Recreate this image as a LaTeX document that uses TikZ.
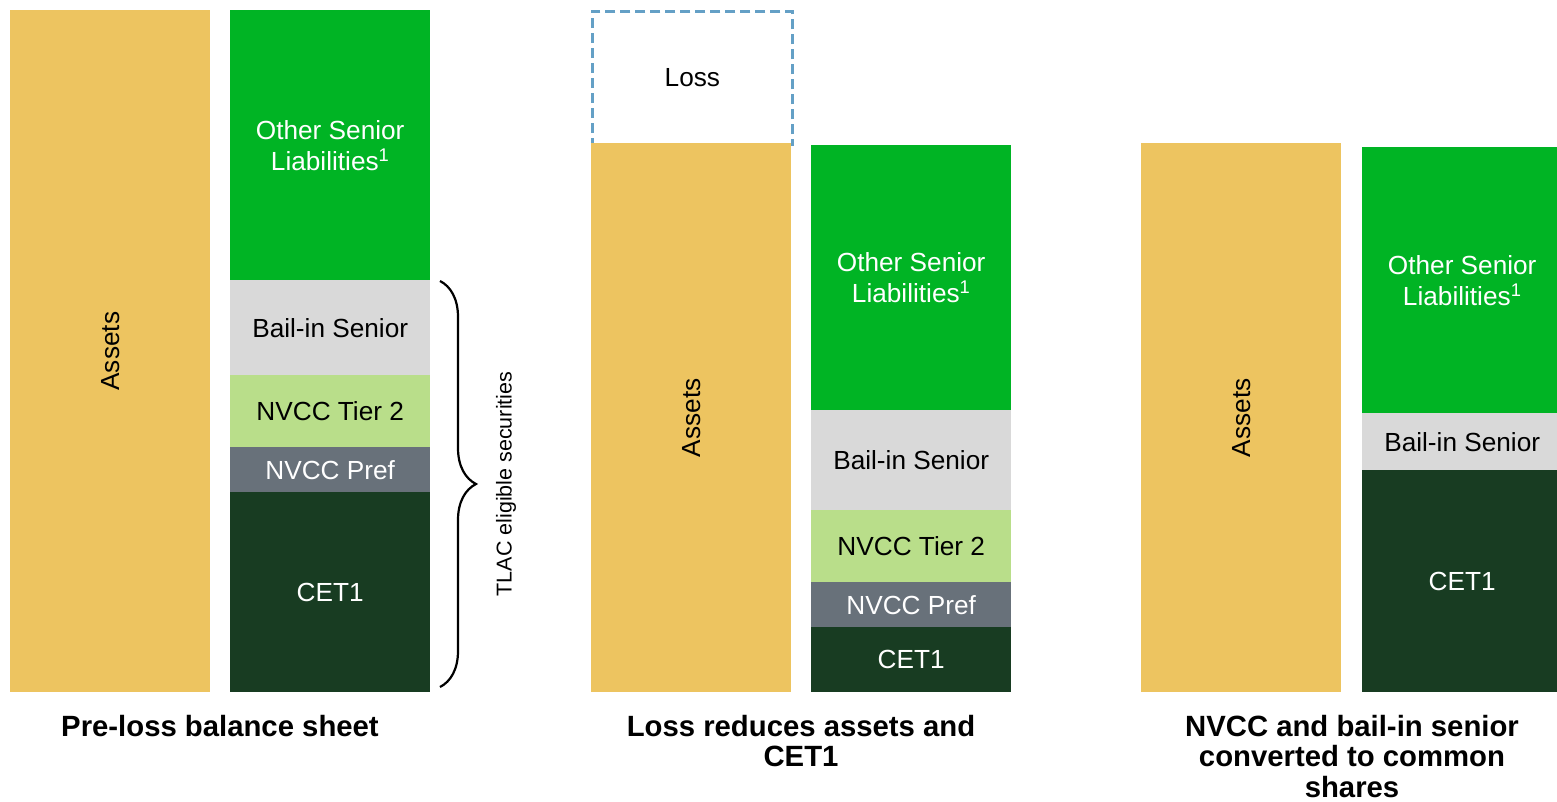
\documentclass[tikz,border=0pt]{standalone}
\usepackage{fontspec}
\setmainfont{Liberation Sans}
\usepackage{tikz}
\usetikzlibrary{positioning, decorations.pathreplacing}
\definecolor{assetgold}{RGB}{237,196,96}
\definecolor{seniorgreen}{RGB}{0,180,36}
\definecolor{cetgreen}{RGB}{24,60,34}
\definecolor{bailgray}{RGB}{217,217,217}
\definecolor{tiergreen}{RGB}{185,222,138}
\definecolor{prefgray}{RGB}{104,113,122}
\definecolor{lossblue}{RGB}{100,160,198}
\newcommand{\barfont}{\fontsize{26.2}{31}\selectfont}
\newcommand{\tlacfont}{\fontsize{21.5}{24}\selectfont}
\newcommand{\titlefont}{\fontsize{29.3}{30.5}\selectfont\bfseries}
\tikzset{
  bar/.style={rectangle, inner sep=0pt, minimum width=200pt,
    anchor=north west, align=center, font=\barfont},
  assetbar/.style={bar, fill=assetgold},
  seniorbar/.style={bar, fill=seniorgreen, text=white},
  bailbar/.style={bar, fill=bailgray},
  tierbar/.style={bar, fill=tiergreen},
  prefbar/.style={bar, fill=prefgray, text=white},
  cetbar/.style={bar, fill=cetgreen, text=white},
  lossbox/.style={bar, draw=lossblue, line width=2.8pt,
    dash pattern=on 10pt off 5pt},
  barlabel/.style={rotate=90, font=\barfont},
  tlacbrace/.style={decorate, decoration={brace, amplitude=36pt, aspect=0.5},
    line width=2.2pt},
  caption/.style={anchor=north, align=center, inner sep=0pt, font=\titlefont}
}

\begin{document}
\begin{tikzpicture}[x=1pt, y=-1pt]
  \clip (0,0) rectangle (1557,801);
  % pre-loss balance sheet
  \node[assetbar, minimum height=682pt] (as1) at (10,10) {};
  \node[barlabel] (as1t) at (as1) {Assets};
  \node[seniorbar, minimum height=270pt] (os1) at (230,10) {Other Senior\\Liabilities\textsuperscript{1}};
  \node[bailbar, minimum height=95pt] (bs1) at (230,280) {Bail-in Senior};
  \node[tierbar, minimum height=72pt] (t21) at (230,375) {NVCC Tier 2};
  \node[prefbar, minimum height=45pt] (pf1) at (230,447) {NVCC Pref};
  \node[cetbar, minimum height=200pt] (ce1) at (230,492) {CET1};
  \coordinate (br1) at (440,281);
  \coordinate (br2) at (440,687);
  \draw[tlacbrace] (br1) -- (br2);
  \node[rotate=90, font=\tlacfont] (tlac) at (506,484) {TLAC eligible securities};
  \node[caption] (cap1) at (220,715) {Pre-loss balance sheet};

  % loss reduces assets and CET1
  \node[lossbox, minimum height=133pt] (loss) at (591,10) {Loss};
  \node[assetbar, minimum height=549pt] (as2) at (591,143) {};
  \node[barlabel] (as2t) at (as2) {Assets};
  \node[seniorbar, minimum height=265pt] (os2) at (811,145) {Other Senior\\Liabilities\textsuperscript{1}};
  \node[bailbar, minimum height=100pt] (bs2) at (811,410) {Bail-in Senior};
  \node[tierbar, minimum height=72pt] (t22) at (811,510) {NVCC Tier 2};
  \node[prefbar, minimum height=45pt] (pf2) at (811,582) {NVCC Pref};
  \node[cetbar, minimum height=65pt] (ce2) at (811,627) {CET1};
  \node[caption] (cap2) at (801,715) {Loss reduces assets and\\CET1};

  % conversion to common shares
  \node[assetbar, minimum height=549pt] (as3) at (1141,143) {};
  \node[barlabel] (as3t) at (as3) {Assets};
  \node[seniorbar, minimum height=266pt] (os3) at (1362,147) {Other Senior\\Liabilities\textsuperscript{1}};
  \node[bailbar, minimum height=57pt] (bs3) at (1362,413) {Bail-in Senior};
  \node[cetbar, minimum height=222pt] (ce3) at (1362,470) {CET1};
  \node[caption] (cap3) at (1352,715) {NVCC and bail-in senior\\converted to common\\shares};
\end{tikzpicture}
\end{document}
